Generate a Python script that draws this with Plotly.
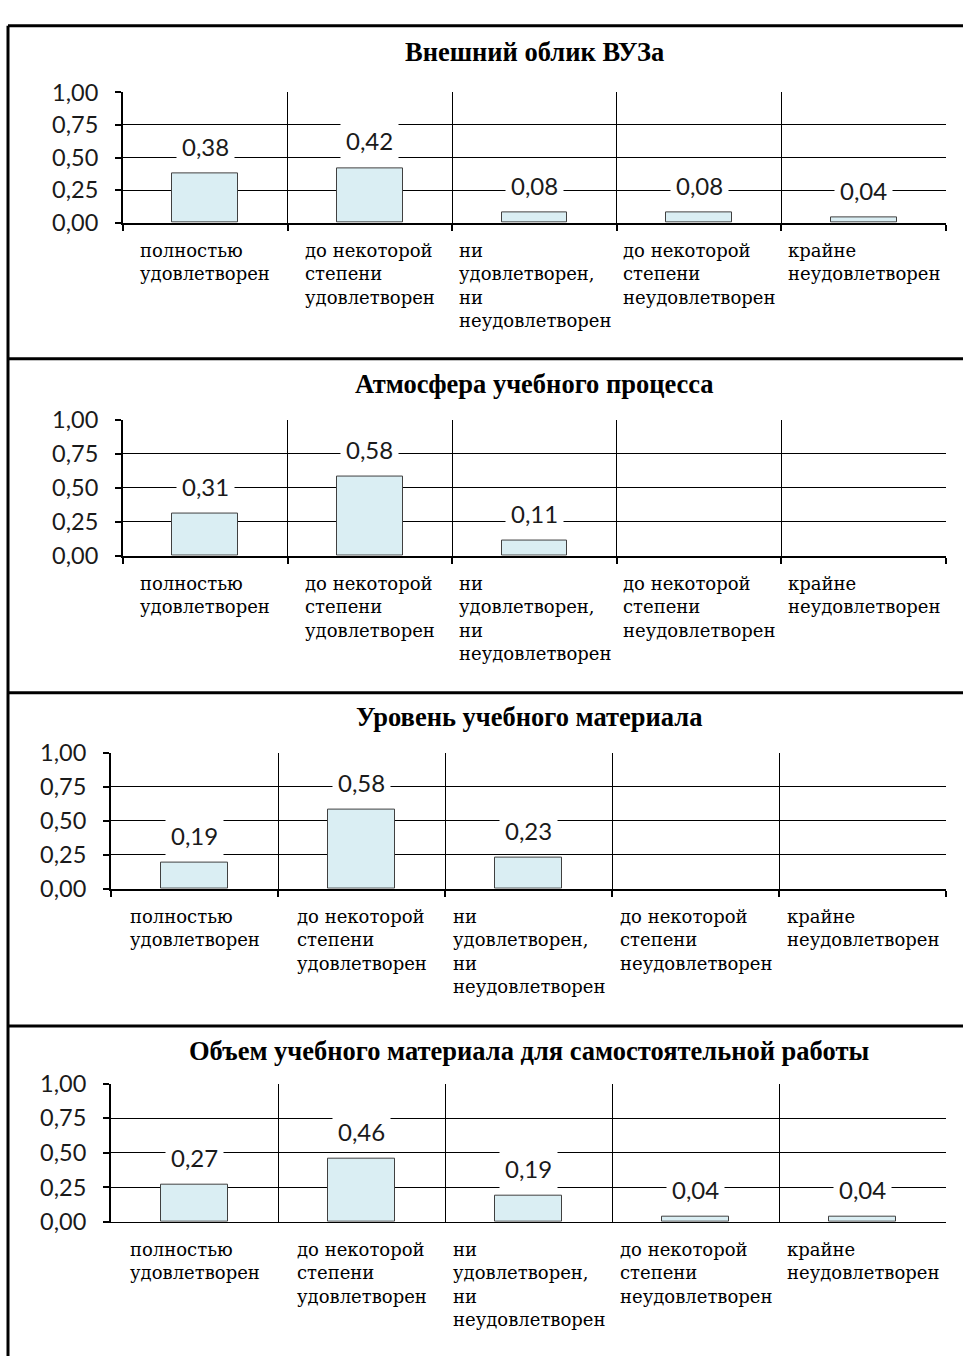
import plotly.graph_objects as go

W, H = 963, 1369

categories = ["полностью<br>удовлетворен",
              "до некоторой<br>степени<br>удовлетворен",
              "ни<br>удовлетворен,<br>ни<br>неудовлетворен",
              "до некоторой<br>степени<br>неудовлетворен",
              "крайне<br>неудовлетворен"]

titles = ["Внешний облик ВУЗа",
          "Атмосфера учебного процесса",
          "Уровень учебного материала",
          "Объем учебного материала для самостоятельной работы"]

values_appearance = [0.38, 0.42, 0.08, 0.08, 0.04]
values_atmosphere = [0.31, 0.58, 0.11, None, None]
values_level = [0.19, 0.58, 0.23, None, None]
values_volume = [0.27, 0.46, 0.19, 0.04, 0.04]
all_values = [values_appearance, values_atmosphere, values_level, values_volume]

y_ticks = [0, 0.25, 0.5, 0.75, 1.0]
y_ticktext = ["0,00", "0,25", "0,50", "0,75", "1,00"]

# pixel geometry of each panel: (left, right, top, bottom, title_y)
geom = [(123, 946, 79, 212, 38),
        (123, 946, 413, 552, 377),
        (111, 946, 753, 892, 717),
        (111, 946, 1091, 1232, 1058)]

def fx(px):
    return px / W

def fy(py):
    return 1 - py / H

NUM_FONT = "Lato"
CAT_FONT = "DejaVu Serif"
TITLE_FONT = "Liberation Serif"

fig = go.Figure()
annotations = []
shapes = []
x_pos = list(range(len(categories)))

for i, (vals, title, g) in enumerate(zip(all_values, titles, geom)):
    left, right, top, bottom, ty = g
    n = "" if i == 0 else str(i + 1)
    xa, ya = "x" + n, "y" + n
    fig.add_trace(go.Bar(
        x=x_pos, y=vals, xaxis=xa, yaxis=ya, width=0.4,
        marker=dict(color="#DAEEF3", line=dict(color="#404040", width=1)),
        showlegend=False, hoverinfo="skip"))
    last = (i == 3)
    fig.update_layout(**{
        ("xaxis" + n): dict(
            domain=[fx(left), fx(right)], anchor=ya, range=[-0.5, 4.5],
            tickvals=[-0.5, 0.5, 1.5, 2.5, 3.5, 4.5], showticklabels=False,
            showgrid=True, gridcolor="#000000", gridwidth=1,
            showline=True, linecolor="#000000", linewidth=1 if last else 2,
            ticks="" if last else "outside", ticklen=6, tickwidth=2, tickcolor="#000000",
            zeroline=False, fixedrange=True),
        ("yaxis" + n): dict(
            domain=[fy(bottom), fy(top)], anchor=xa, range=[0, 1],
            tickvals=y_ticks, ticktext=y_ticktext,
            showgrid=True, gridcolor="#000000", gridwidth=1,
            showline=True, linecolor="#000000", linewidth=2,
            ticks="outside", ticklen=6, tickwidth=2, tickcolor="#000000",
            ticklabelstandoff=12,
            tickfont=dict(family=NUM_FONT, size=23.5, color="#1a1a1a"),
            zeroline=False, fixedrange=True),
    })
    # title
    annotations.append(dict(
        text="<b>" + title + "</b>", xref="paper", yref="paper",
        x=fx((left + right) / 2), y=fy(ty), xanchor="center", yanchor="middle",
        showarrow=False, font=dict(family=TITLE_FONT, size=26.5, color="#000000")))
    # data labels
    for xi, v in zip(x_pos, vals):
        if v is None:
            continue
        annotations.append(dict(
            text=f"{v:.2f}".replace(".", ","), xref=xa, yref=ya, x=xi, y=v,
            xanchor="center", yanchor="middle", yshift=27, showarrow=False,
            bgcolor="#ffffff", borderpad=5,
            font=dict(family=NUM_FONT, size=24, color="#1a1a1a")))
    # category labels
    for xi, c in zip(x_pos, categories):
        annotations.append(dict(
            text=c, xref=xa, yref="paper", x=xi, y=fy(bottom + 16),
            xanchor="center", yanchor="top", align="left", showarrow=False,
            font=dict(family=CAT_FONT, size=18, color="#000000")))

# frame lines
line_style = dict(color="#000000", width=3)
shapes.append(dict(type="line", xref="paper", yref="paper",
                   x0=fx(8), x1=1, y0=fy(11), y1=fy(11), line=line_style))
shapes.append(dict(type="line", xref="paper", yref="paper",
                   x0=fx(8), x1=fx(8), y0=fy(11), y1=0, line=line_style))
for sy in [351, 692, 1032]:
    shapes.append(dict(type="line", xref="paper", yref="paper",
                       x0=fx(8), x1=1, y0=fy(sy), y1=fy(sy), line=line_style))

fig.update_layout(
    width=W, height=H, margin=dict(l=0, r=0, t=0, b=0),
    paper_bgcolor="#ffffff", plot_bgcolor="#ffffff",
    annotations=annotations, shapes=shapes, bargap=0)

fig.write_html("out.html")
